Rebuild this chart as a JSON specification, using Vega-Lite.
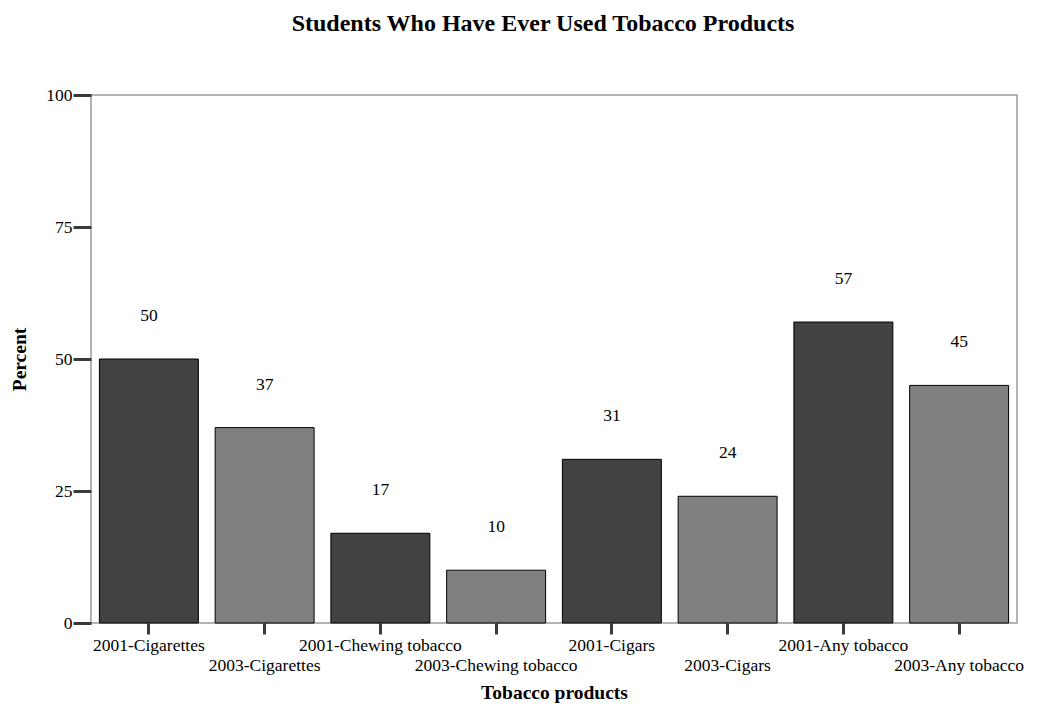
{
  "$schema": "https://vega.github.io/schema/vega-lite/v6.json",
  "autosize": {"type": "none"},
  "padding": {"left": 91, "top": 95, "right": 24, "bottom": 84},
  "width": 926,
  "height": 528,
  "background": "white",
  "title": {
    "text": "Students Who Have Ever Used Tobacco Products",
    "font": "Liberation Serif",
    "fontSize": 24,
    "fontWeight": "bold",
    "color": "black",
    "anchor": "middle",
    "dx": -11,
    "offset": 50
  },
  "config": {
    "view": {"stroke": "#9a9a9a", "strokeWidth": 1.5},
    "axis": {
      "labelFont": "Liberation Serif",
      "labelFontSize": 17.5,
      "labelColor": "black",
      "titleFont": "Liberation Serif",
      "titleFontSize": 19.5,
      "titleFontWeight": "bold",
      "titleColor": "black",
      "domainColor": "#9a9a9a",
      "domainWidth": 1.5,
      "tickColor": "#3a3a3a",
      "tickWidth": 3,
      "grid": false
    }
  },
  "data": {
    "values": [
      {"product": "2001-Cigarettes", "year": "2001", "percent": 50},
      {"product": "2003-Cigarettes", "year": "2003", "percent": 37},
      {"product": "2001-Chewing tobacco", "year": "2001", "percent": 17},
      {"product": "2003-Chewing tobacco", "year": "2003", "percent": 10},
      {"product": "2001-Cigars", "year": "2001", "percent": 31},
      {"product": "2003-Cigars", "year": "2003", "percent": 24},
      {"product": "2001-Any tobacco", "year": "2001", "percent": 57},
      {"product": "2003-Any tobacco", "year": "2003", "percent": 45}
    ]
  },
  "encoding": {
    "x": {
      "field": "product",
      "type": "nominal",
      "sort": null,
      "scale": {"paddingInner": 0.145, "paddingOuter": 0.0725},
      "axis": {
        "title": "Tobacco products",
        "titlePadding": 10,
        "labelAngle": 0,
        "tickSize": 11,
        "labelPadding": {
          "condition": {"test": "indexof(datum.value, '2003') == 0", "value": 22},
          "value": 2
        },
        "domain": false
      }
    },
    "y": {
      "field": "percent",
      "type": "quantitative",
      "scale": {"domain": [0, 100], "nice": false},
      "axis": {
        "title": "Percent",
        "values": [0, 25, 50, 75, 100],
        "tickSize": 18,
        "labelPadding": 1,
        "titlePadding": 16,
        "domain": false
      }
    }
  },
  "layer": [
    {
      "mark": {"type": "bar", "stroke": "black", "strokeWidth": 1},
      "encoding": {
        "color": {
          "field": "year",
          "type": "nominal",
          "scale": {"domain": ["2001", "2003"], "range": ["#424242", "#808080"]},
          "legend": null
        }
      }
    },
    {
      "mark": {
        "type": "text",
        "font": "Liberation Serif",
        "fontSize": 17.5,
        "color": "black",
        "baseline": "middle",
        "dy": -43
      },
      "encoding": {"text": {"field": "percent", "type": "quantitative"}}
    }
  ]
}
